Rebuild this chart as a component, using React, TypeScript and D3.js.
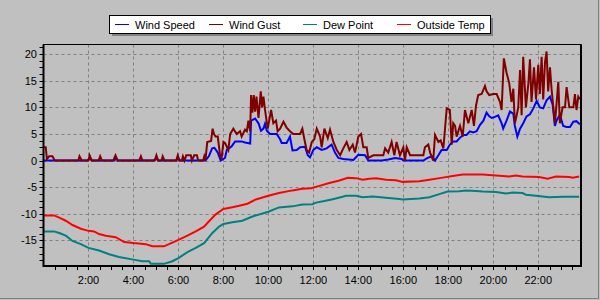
import React from "react";
import * as d3 from "d3";

// ---- Data (hours of day, values) ----
const speedTimes = [0, 1.95, 2.05, 2.15, 3.15, 3.22, 3.3, 4.9, 5.0, 5.1, 5.9, 5.97, 6.05, 7.2, 7.35, 7.5, 7.6, 7.75, 7.88, 8.0,
  8.07, 8.15, 8.37, 8.52, 8.81, 8.96, 9.19, 9.23, 9.41, 9.56, 9.67, 9.78, 9.85, 9.93, 10.07, 10.37, 10.52, 10.59, 10.81, 10.96,
  11.07, 11.26, 11.41, 11.63, 11.75, 11.85, 12.0, 12.15, 12.37, 12.59, 12.81, 12.96, 13.11, 13.33, 13.56, 13.78, 14.0, 14.3, 14.44,
  15.04, 15.33, 15.63, 15.93, 16.0, 16.89, 17.04, 17.26, 17.41, 17.56, 17.7, 17.93, 18.07, 18.22, 18.37, 18.52, 18.67, 18.81, 18.96,
  19.11, 19.26, 19.41, 19.56, 19.7, 19.82, 19.93, 20.07, 20.22, 20.37, 20.44, 20.59, 20.74, 20.89, 20.96, 21.07, 21.19, 21.33, 21.48,
  21.63, 21.78, 21.93, 22.07, 22.22, 22.37, 22.52, 22.64, 22.74, 22.81, 22.96, 23.11, 23.26, 23.41, 23.56, 23.7, 23.85];
const speedValues = [0, 0, 0.4, 0, 0, 0.4, 0, 0, 0.4, 0, 0, 0.4, 0, 0, 0.8, 2.3, 2.4, 1.5, 0, 0.3,
  0.5, 2.0, 2.7, 3.6, 3.6, 3.4, 3.2, 7.5, 7.9, 7.0, 5.6, 6.0, 6.9, 5.6, 5.0, 5.0, 4.0, 3.3, 3.3, 4.5,
  1.9, 2.0, 2.5, 2.6, 1.0, 0.6, 2.0, 2.5, 2.0, 2.3, 3.0, 1.5, 0.5, 0.3, 0.2, 0.1, 1.1, 1.0, 0,
  0, 0.2, 0.5, 0.3, 0, 0, 0.4, 0.8, 0, 1.0, 2.0, 2.0, 3.0, 3.6, 3.6, 4.3, 4.8, 4.8, 5.5,
  5.3, 5.5, 6.7, 7.5, 9.0, 8.3, 8.0, 8.2, 8.5, 7.0, 6.0, 7.5, 9.2, 8.8, 6.5, 4.5, 6.0, 7.0, 8.3,
  8.7, 9.8, 11.2, 10.0, 9.8, 11.3, 12.0, 10.5, 6.5, 7.5, 8.6, 6.5, 6.3, 6.3, 7.3, 7.4, 6.8];

const gustTimes = [0, 0.1, 0.15, 0.25, 0.4, 0.5, 1.55, 1.6, 1.7, 2.0, 2.05, 2.15, 2.45, 2.52, 2.6, 3.1, 3.2, 3.3, 4.25, 4.33, 4.4,
  4.95, 5.02, 5.1, 5.25, 5.3, 5.38, 5.9, 5.97, 6.05, 6.15, 6.2, 6.27, 6.35, 6.55, 6.6, 6.7, 6.82, 6.88, 7.1, 7.15, 7.2, 7.28,
  7.45, 7.52, 7.58, 7.65, 7.75, 7.85, 7.92, 8.0,
  8.07, 8.22, 8.3, 8.44, 8.59, 8.74, 8.81, 8.96, 9.04, 9.11, 9.19, 9.23, 9.29, 9.35, 9.41, 9.47, 9.56, 9.66, 9.72, 9.78, 9.85,
  9.97, 10.12, 10.22, 10.34, 10.41, 10.52, 10.67, 10.81, 10.96, 11.11, 11.41, 11.51, 11.6, 11.7, 11.81, 11.93, 12.04, 12.15,
  12.3, 12.37, 12.49, 12.64, 12.74, 12.89, 13.04, 13.19, 13.33, 13.48, 13.6, 13.75, 13.85, 14.0, 14.12, 14.22, 14.37, 14.44,
  14.67, 15.11, 15.19, 15.33, 15.48, 15.6, 15.7, 15.85, 16.0,
  16.07, 16.15, 16.3, 16.89, 16.96, 17.11, 17.19, 17.33, 17.41, 17.56, 17.66, 17.78, 17.93, 18.07, 18.15, 18.22, 18.3, 18.37,
  18.52, 18.64, 18.74, 18.89, 19.04, 19.14, 19.23, 19.33, 19.48, 19.63, 19.7, 19.82, 20.0, 20.15, 20.3, 20.37, 20.47, 20.59,
  20.71, 20.81, 20.89, 20.96, 21.04, 21.11, 21.19, 21.26, 21.33, 21.45, 21.56, 21.63, 21.7, 21.81, 21.9, 22.0, 22.07, 22.15,
  22.22, 22.3, 22.37, 22.44, 22.52, 22.59, 22.67, 22.74, 22.81, 22.89, 22.96, 23.08, 23.19, 23.26, 23.38, 23.56, 23.63, 23.7,
  23.78, 23.85];
const gustValues = [2.5, 2.5, 0.3, 0.8, 0.8, 0, 0, 0.8, 0, 0, 1.0, 0, 0, 0.8, 0, 0, 1.0, 0, 0, 0.8, 0,
  0, 1.0, 0, 0, 0.8, 0, 0, 1.0, 0, 0, 0.8, 0, 1.0, 1.0, 0, 1.0, 1.0, 0, 0, 0.8, 0, 3.5,
  3.7, 6.0, 5.0, 4.5, 4.5, 1.0, 0.5, 3.5,
  3.3, 2.0, 5.0, 6.0, 5.0, 5.5, 4.5, 5.8, 5.5, 7.5, 5.5, 12.3, 9.0, 12.3, 9.2, 12.0, 8.0, 13.0, 10.0, 12.0, 9.5,
  6.0, 9.5, 7.0, 7.5, 5.5, 6.0, 7.3, 6.2, 5.5, 5.0, 5.0, 6.0, 4.0, 2.0, 1.5, 3.5, 4.0, 6.0,
  4.5, 2.5, 6.0, 4.2, 5.8, 3.5, 2.0, 1.0, 2.3, 3.5, 2.0, 3.0, 1.5, 4.5, 5.0, 2.5, 2.5, 0.5,
  1.0, 1.0, 2.3, 1.5, 3.5, 1.0, 3.5, 1.0, 2.5,
  0, 2.5, 1.0, 1.0, 2.5, 3.0, 1.5, 0, 4.8, 3.5, 3.8, 2.3, 9.8, 9.5, 3.0, 7.0, 6.5, 4.5,
  6.5, 4.5, 9.5, 7.0, 9.5, 6.5, 10.3, 12.3, 12.5, 14.0, 13.0, 12.3, 12.5, 12.5, 11.0, 9.5, 19.2, 16.5,
  14.5, 11.0, 13.5, 7.0, 8.5, 10.0, 17.0, 8.5, 19.5, 10.0, 14.5, 19.0, 11.0, 17.5, 11.5, 18.0, 12.5, 19.5,
  11.5, 18.5, 20.5, 13.0, 17.5, 13.5, 10.0, 7.0, 10.5, 14.8, 7.0, 10.0, 10.0, 13.8, 10.0, 10.0, 12.5, 9.5,
  12.0, 11.5];

const dewTimes = [0.03, 0.47, 0.7, 0.99, 1.29, 1.66, 2.0, 2.47, 2.92, 3.36, 4.0, 4.4, 4.7, 4.77, 5.36, 5.73, 6.0, 6.4, 6.77,
  7.14, 7.51, 7.81, 8.0, 8.4, 8.84, 9.29, 10.0, 10.47, 11.07, 11.51, 11.95, 12.12, 12.49, 12.86, 13.3, 13.45, 13.9, 14.19,
  14.64, 15.23, 15.82, 15.97, 16.71, 17.16, 17.6, 17.97, 18.49, 18.79, 19.23, 19.53, 20.12, 20.56, 20.86, 21.3, 21.45, 21.9,
  22.19, 22.49, 23.08, 23.82];
const dewValues = [-13.3, -13.3, -13.6, -14.1, -15.1, -15.7, -16.4, -16.9, -17.6, -18.1, -18.6, -18.9, -18.9, -19.4, -19.4,
  -18.9, -18.3, -17.2, -16.4, -15.5, -13.6, -12.4, -11.9, -11.6, -11.3, -10.5, -9.6, -8.8, -8.6, -8.25, -8.2, -7.9, -7.6,
  -7.25, -6.8, -6.6, -6.6, -6.9, -6.75, -7.0, -7.2, -7.3, -7.1, -6.9, -6.3, -5.8, -5.75, -5.6, -5.7, -5.8, -5.9, -6.2, -6.0,
  -6.1, -6.4, -6.6, -6.75, -6.9, -6.8, -6.8];

const tempTimes = [0.03, 0.47, 0.7, 0.99, 1.29, 1.66, 2.0, 2.25, 2.47, 2.77, 3.21, 3.59, 4.0, 4.55, 4.84, 5.36, 5.73, 6.0,
  6.4, 6.77, 7.14, 7.36, 7.66, 8.0, 8.4, 8.7, 9.07, 9.44, 10.0, 10.47, 11.07, 11.51, 11.9, 12.27, 12.71, 13.16, 13.53, 13.9,
  14.19, 14.49, 14.79, 15.23, 15.67, 15.97, 16.71, 17.16, 17.75, 18.19, 18.64, 19.53, 20.12, 20.71, 21.0, 21.3, 22.04, 22.41,
  22.79, 23.38, 23.53, 23.82];
const tempValues = [-10.3, -10.3, -10.7, -11.3, -12.1, -12.8, -13.2, -13.3, -13.8, -14.1, -14.4, -15.3, -15.5, -15.7, -16.1,
  -16.1, -15.4, -14.9, -14.1, -13.3, -12.4, -11.4, -10.1, -9.1, -8.75, -8.5, -8.1, -7.3, -6.6, -6.1, -5.6, -5.3, -5.2, -4.75,
  -4.2, -3.75, -3.25, -3.3, -3.6, -3.4, -3.3, -3.6, -3.7, -4.0, -3.9, -3.6, -3.2, -2.9, -2.6, -2.6, -2.8, -3.0, -2.8, -3.0,
  -3.1, -3.4, -3.0, -3.1, -3.2, -3.0];

const seriesNames = ["Wind Speed", "Wind Gust", "Dew Point", "Outside Temp"];
const seriesColors = ["#0000FF", "#800000", "#008080", "#FF0000"];
const yTicks = [-15, -10, -5, 0, 5, 10, 15, 20];
const xTickHours = [2, 4, 6, 8, 10, 12, 14, 16, 18, 20, 22];
const xTickLabels = ["2:00", "4:00", "6:00", "8:00", "10:00", "12:00", "14:00", "16:00", "18:00", "20:00", "22:00"];

const W = 600, H = 300;
const PL = 43.5, PR = 581, PT = 44.5, PB = 266;

export default function App() {
  const x = d3.scaleLinear().domain([0, 23.9]).range([PL, PR]);
  const y = d3.scaleLinear().domain([-19.8, 21.8]).range([PB, PT]);
  const line = d3.line<[number, number]>().x(d => x(d[0])).y(d => y(d[1]));
  const zip = (t: number[], v: number[]) => t.map((tt, i) => [tt, v[i]] as [number, number]);
  const series = [
    zip(speedTimes, speedValues),
    zip(gustTimes, gustValues),
    zip(dewTimes, dewValues),
    zip(tempTimes, tempValues),
  ];
  const yMinor = d3.range(-18.75, 21.5, 1.25);
  const xMinor = d3.range(0.5, 23.9, 0.5);
  const font = "'Liberation Sans', Arial, sans-serif";

  return (
    <div style={{ position: "absolute", left: 0, top: 0 }}>
      <svg width={W} height={H} style={{ display: "block" }}>
        <rect x={0} y={0} width={W} height={H} fill="#C0C0C0" />
        <line x1={598.5} y1={0} x2={598.5} y2={299} stroke="#808080" />
        <line x1={0} y1={298.5} x2={599} y2={298.5} stroke="#808080" />
        <defs>
          <clipPath id="plotclip">
            <rect x={PL} y={PT} width={PR - PL} height={PB - PT} />
          </clipPath>
        </defs>
        {/* grid */}
        {yTicks.map(v => (
          <line key={"gy" + v} x1={PL} x2={PR} y1={Math.round(y(v)) + 0.5} y2={Math.round(y(v)) + 0.5}
            stroke="#808080" strokeDasharray="3,3" />
        ))}
        {xTickHours.map(h => (
          <line key={"gx" + h} y1={PT} y2={PB} x1={Math.round(x(h)) + 0.5} x2={Math.round(x(h)) + 0.5}
            stroke="#808080" strokeDasharray="3,3" />
        ))}
        {/* ticks */}
        {yMinor.map(v => (
          <line key={"ty" + v} x1={PL - 4} x2={PL} y1={Math.round(y(v)) + 0.5} y2={Math.round(y(v)) + 0.5}
            stroke="#000" />
        ))}
        {xMinor.map(h => (
          <line key={"tx" + h} y1={PB} y2={PB + 4} x1={Math.round(x(h)) + 0.5} x2={Math.round(x(h)) + 0.5}
            stroke="#000" />
        ))}
        {/* series */}
        <g clipPath="url(#plotclip)">
          {series.map((s, i) => (
            <path key={seriesNames[i]} d={line(s) || ""} fill="none" stroke={seriesColors[i]} strokeWidth={2}
              strokeLinejoin="miter" />
          ))}
        </g>
        {/* frame */}
        <rect x={PL} y={PT} width={PR - PL} height={PB - PT} fill="none" stroke="#000" strokeWidth={1} />
        <line x1={PL} x2={PL} y1={PT} y2={PB + 1} stroke="#000" strokeWidth={2} />
        <line x1={PL} x2={PR + 1} y1={PB} y2={PB} stroke="#000" strokeWidth={2} />
        <line x1={PR} x2={PR} y1={PT} y2={PB} stroke="#000" strokeWidth={2} />
        {/* labels */}
        {yTicks.map(v => (
          <text key={"ly" + v} x={37} y={y(v) + 4} textAnchor="end" fontFamily={font} fontSize={11} fill="#000">
            {v}
          </text>
        ))}
        {xTickHours.map((h, i) => (
          <text key={"lx" + h} x={x(h)} y={284} textAnchor="middle" fontFamily={font} fontSize={11} fill="#000">
            {xTickLabels[i]}
          </text>
        ))}
        {/* legend */}
        <rect x={112} y={18} width={381} height={18} fill="#808080" />
        <rect x={109.5} y={15.5} width={381} height={18} fill="#FFFFFF" stroke="#000" />
        {seriesNames.map((n, i) => (
          <g key={"lg" + n} transform={`translate(${115 + i * 94},0)`}>
            <line x1={0} x2={14} y1={24.5} y2={24.5} stroke={seriesColors[i]} strokeWidth={1} />
            <text x={20} y={28.5} fontFamily={font} fontSize={11} fill="#000">{n}</text>
          </g>
        ))}
      </svg>
    </div>
  );
}
